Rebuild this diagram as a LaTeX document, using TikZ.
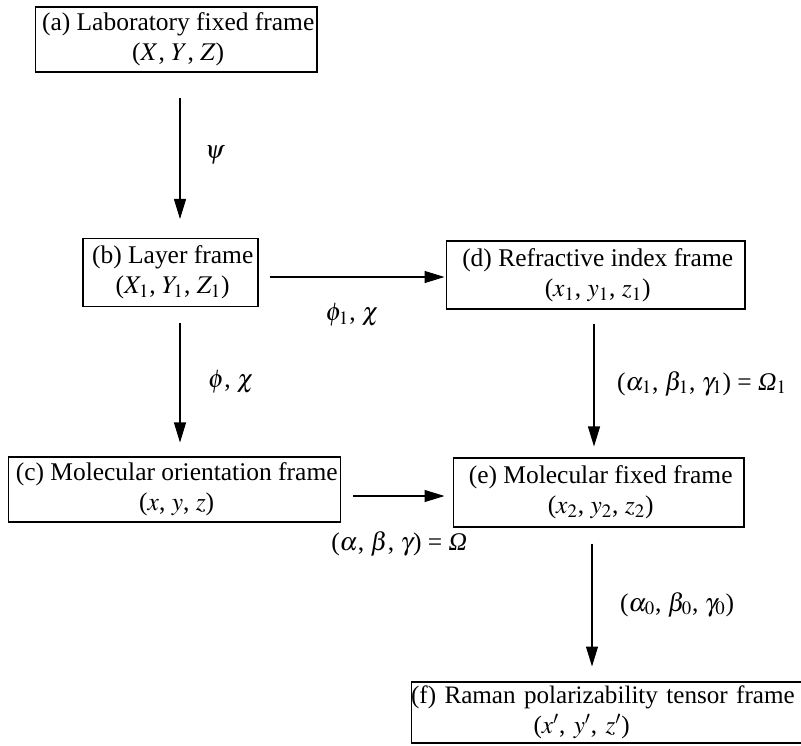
\documentclass[tikz,border=0pt]{standalone}
\usepackage{mathptmx}
\usepackage{fontspec}
\setmainfont{Liberation Serif}
\usetikzlibrary{arrows.meta}
\tikzset{
	framebox/.style={draw, line width=0.6pt, align=center, inner sep=0pt, font=\myfontframes},
	link/.style={-{Triangle[length=0.4cm,width=0.24cm]}, line width=0.6pt},
	anglelabel/.style={inner sep=3pt, font=\myfontframes}
}
\begin{document}
\begin{tikzpicture}[x=0.02cm,y=-0.02cm]
			\newcommand{\myfontframes}{
				\fontsize{14.5}{17}\selectfont
			}%Page
			\useasboundingbox (0,0) rectangle (801,745);
			%Centres of the frames
			\coordinate (centera) at (176.0,39.5);
			\coordinate (centerb) at (170.5,272.5);
			\coordinate (centerc) at (174.5,489.5);
			\coordinate (centerd) at (595.5,275.0);
			\coordinate (centere) at (598.5,492.5);
			\coordinate (centerf) at (611.0,712.5);
			%The frames
			\node (a) [framebox,minimum width=5.64cm,minimum height=1.3cm] at (centera) {(a) Laboratory fixed frame\\($X$, $Y$, $Z$)};
			\node (b) [framebox,minimum width=3.5cm,minimum height=1.36cm] at (centerb) {(b) Layer frame\\($X_1$, $Y_1$, $Z_1$)};
			\node (c) [framebox,minimum width=6.66cm,minimum height=1.3cm] at (centerc) {(c) Molecular orientation frame\\($x$, $y$, $z$)};
			\node (d) [framebox,minimum width=5.98cm,minimum height=1.36cm] at (centerd) {(d) Refractive index frame\\($x_1$, $y_1$, $z_1$)};
			\node (e) [framebox,minimum width=5.82cm,minimum height=1.38cm] at (centere) {(e) Molecular fixed frame\\($x_2$, $y_2$, $z_2$)};
			\node (f) [framebox,align=left,text width=8cm,minimum height=1.22cm,font=\fontsize{14.3}{17}\selectfont] at (centerf) {(f) Raman polarizability tensor frame\\\hspace*{2.45cm}($x'$, $y'$, $z'$)};
			%Vertical arrows
			\draw [link,shorten <=0.5cm,shorten >=0.38cm] ([xshift=0.08cm]a.south) -- ([xshift=0.08cm]a.south |- b.north)
				node [anglelabel,midway,right=0.3cm] {$\psi$};
			\draw [link,shorten <=0.32cm,shorten >=0.28cm] ([xshift=0.19cm]b.south) -- ([xshift=0.19cm]b.south |- c.north)
				node [anglelabel,midway,right=0.36cm] {$\phi$, $\chi$};
			\draw [link,shorten <=0.28cm,shorten >=0.22cm] ([xshift=-0.03cm]d.south) -- ([xshift=-0.03cm]d.south |- e.north)
				node [anglelabel,midway,right=0.26cm] {($\alpha_1$, $\beta_1$, $\gamma_1$) = \textit{Ω}$_1$};
			\draw [link,shorten <=0.32cm,shorten >=0.3cm] ([xshift=-0.13cm]e.south) -- ([xshift=-0.13cm]e.south |- f.north)
				node [anglelabel,midway,right=0.36cm] {($\alpha_0$, $\beta_0$, $\gamma_0$)};
			%Horizontal arrows
			\draw [link,shorten <=0.22cm,shorten >=0.02cm] ([yshift=-0.09cm]b.east) -- ([yshift=-0.09cm]b.east -| d.west)
				node [anglelabel,midway,below=0.42cm,xshift=-0.04cm] {$\phi_1$, $\chi$};
			\draw [link,shorten <=0.24cm,shorten >=0.16cm] ([yshift=-0.13cm]c.east) -- ([yshift=-0.13cm]c.east -| e.west)
				node [anglelabel,midway,below=0.6cm] {($\alpha$, $\beta$, $\gamma$) = \textit{Ω}};
			\end{tikzpicture}
\end{document}
